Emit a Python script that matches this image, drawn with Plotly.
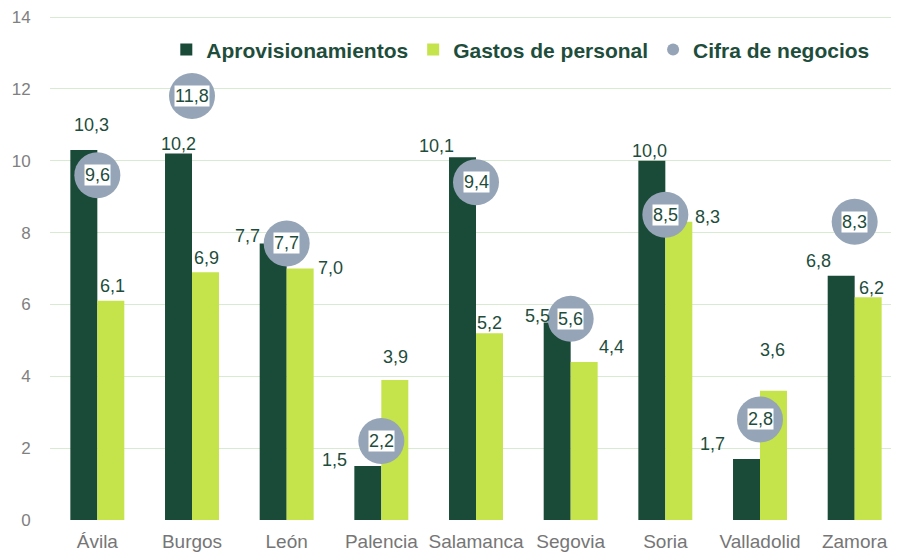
import plotly.graph_objects as go

categories = ["Ávila", "Burgos", "León", "Palencia", "Salamanca", "Segovia", "Soria", "Valladolid", "Zamora"]
aprovisionamientos = [10.3, 10.2, 7.7, 1.5, 10.1, 5.5, 10.0, 1.7, 6.8]
gastos_personal = [6.1, 6.9, 7.0, 3.9, 5.2, 4.4, 8.3, 3.6, 6.2]
cifra_negocios = [9.6, 11.8, 7.7, 2.2, 9.4, 5.6, 8.5, 2.8, 8.3]

DARK = "#1a4a38"
LIGHT = "#c5e34a"
GREY = "#95a4b6"
TXT = "#1e4d3c"
FONT = "Liberation Sans, Arial"

def fmt(v):
    return f"{v:.1f}".replace(".", ",")

# label offsets (pixels) relative to bar top centre, mimicking Excel placement
aprov_off = [(8, 25), (0, 10), (-26, 7), (-33, 6), (-26, 11), (-20, 6), (-2, 10), (-34, 15), (-23, 15)]
gastos_off = [(2, 15), (1, 14), (30, 1), (1, 23), (0, 10), (27, 15), (29, 5), (-1, 41), (3, 9)]

fig = go.Figure()
fig.add_trace(go.Bar(name="Aprovisionamientos", x=categories, y=aprovisionamientos,
                     marker_color=DARK, marker_line_width=0, offsetgroup="a"))
fig.add_trace(go.Bar(name="Gastos de personal", x=categories, y=gastos_personal,
                     marker_color=LIGHT, marker_line_width=0, offsetgroup="b"))
fig.add_trace(go.Scatter(name="Cifra de negocios", x=categories, y=cifra_negocios, mode="markers",
                         marker=dict(color=GREY, size=46, line=dict(width=0))))

annotations = []
n = len(categories)
for i in range(n):
    dx, dy = aprov_off[i]
    annotations.append(dict(x=i, y=aprovisionamientos[i], xref="x", yref="y", text=fmt(aprovisionamientos[i]),
                            showarrow=False, xshift=-13.5 + dx, yshift=dy,
                            font=dict(family=FONT, size=18, color=TXT)))
    dx, dy = gastos_off[i]
    annotations.append(dict(x=i, y=gastos_personal[i], xref="x", yref="y", text=fmt(gastos_personal[i]),
                            showarrow=False, xshift=13.5 + dx, yshift=dy,
                            font=dict(family=FONT, size=18, color=TXT)))
    annotations.append(dict(x=i, y=cifra_negocios[i], xref="x", yref="y", text=fmt(cifra_negocios[i]),
                            showarrow=False, bgcolor="white", borderpad=0,
                            font=dict(family=FONT, size=18, color=TXT)))

fig.update_layout(
    width=899, height=557,
    margin=dict(l=42, r=5, t=8, b=45, autoexpand=False),
    plot_bgcolor="white", paper_bgcolor="white",
    barmode="group", bargap=0.43, bargroupgap=0,
    font=dict(family=FONT, color="#767676"),
    legend=dict(orientation="h", x=0.552, y=0.933, xanchor="center", yanchor="middle",
                font=dict(family=FONT, size=21, color=TXT, weight="bold"),
                itemsizing="constant", bgcolor="rgba(0,0,0,0)", itemwidth=30, tracegroupgap=0),
    annotations=annotations,
    showlegend=True,
)
fig.update_yaxes(range=[0, 14.03], tickvals=[0, 2, 4, 6, 8, 10, 12, 14], showgrid=True,
                 gridcolor="#d9ead3", gridwidth=1, ticklabeloverflow="allow", automargin=False,
                 zeroline=False, ticks="outside", ticklen=15, tickcolor="white",
                 tickfont=dict(size=17, color="#808080"))
fig.update_xaxes(range=[-0.5, 8.5], showgrid=False, showline=False, ticks="outside", ticklen=4,
                 automargin=False, tickcolor="white", tickfont=dict(size=19, color="#767676"))

fig.write_html("out.html")
